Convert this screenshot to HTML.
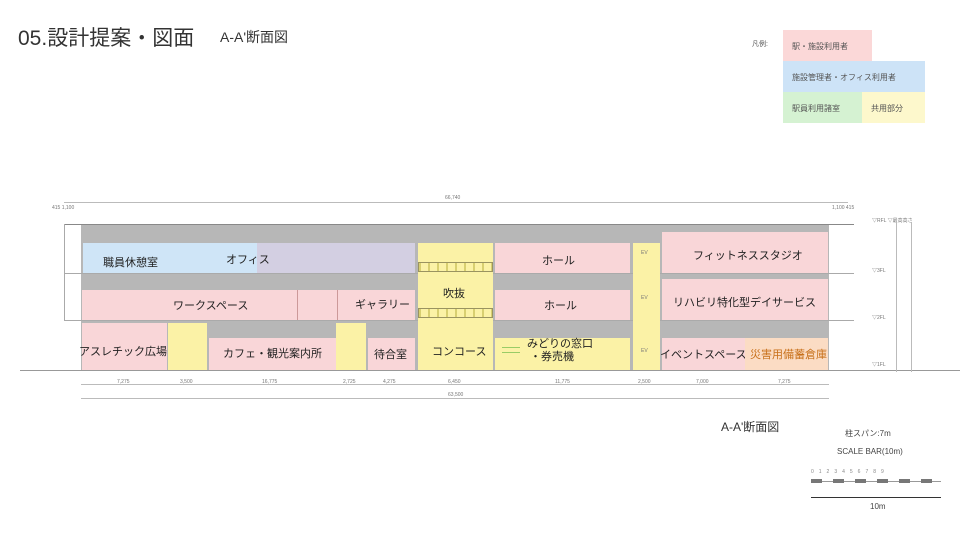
<!DOCTYPE html>
<html><head><meta charset="utf-8"><style>
body{margin:0;width:960px;height:540px;background:#fff;position:relative;overflow:hidden;font-family:"Liberation Sans","Noto Sans CJK JP",sans-serif;color:#333}
.a{position:absolute}
.r{position:absolute;box-sizing:border-box}
.pk{background:#f9d6d8}.bl{background:#cfe5f7}.pu{background:#d3cfe2}.ye{background:#fbf2a6}.gr{background:#b7b7b7}.or{background:#fbdcc4}
.t{position:absolute;font-size:11px;color:#222;white-space:nowrap}
.s{position:absolute;font-size:5px;color:#777;white-space:nowrap}
.ln{position:absolute;background:#888}
.rail{position:absolute;height:10px;border:1px solid #9a9360;background:repeating-linear-gradient(90deg,#d8cf70 0 2px,#fbf2a6 2px 9px);box-sizing:border-box}
</style></head><body>
<div class="a" style="left:18px;top:22px;font-size:21px;color:#333">05.設計提案・図面</div>
<div class="a" style="left:220px;top:27px;font-size:14px;color:#333">A-A'断面図</div>

<div class="a" style="left:752px;top:39px;font-size:7px;color:#555">凡例:</div>
<div class="r" style="left:783px;top:30px;width:89px;height:31px;background:#fbd8d8"><span class="a" style="left:9px;top:11px;font-size:8px;color:#555">駅・施設利用者</span></div>
<div class="r" style="left:783px;top:61px;width:142px;height:31px;background:#cde3f7"><span class="a" style="left:9px;top:11px;font-size:8px;color:#555">施設管理者・オフィス利用者</span></div>
<div class="r" style="left:783px;top:92px;width:79px;height:31px;background:#d5f2d2"><span class="a" style="left:9px;top:11px;font-size:8px;color:#555">駅員利用諸室</span></div>
<div class="r" style="left:862px;top:92px;width:63px;height:31px;background:#fdf8cc"><span class="a" style="left:9px;top:11px;font-size:8px;color:#555">共用部分</span></div>

<!-- top dimension -->
<div class="ln" style="left:64px;top:202px;width:784px;height:1px;background:#bbb"></div>
<div class="s" style="left:445px;top:195px">66,740</div>
<div class="s" style="left:52px;top:205px">415 1,100</div>
<div class="s" style="left:832px;top:205px">1,100 415</div>

<!-- building -->
<div class="r gr" style="left:81px;top:225px;width:748px;height:145px"></div>
<div class="ln" style="left:64px;top:224px;width:790px;height:1px"></div>
<div class="ln" style="left:64px;top:273px;width:790px;height:1px;background:#aaa"></div>
<div class="ln" style="left:64px;top:320px;width:790px;height:1px;background:#aaa"></div>
<div class="ln" style="left:64px;top:224px;width:1px;height:97px;background:#aaa"></div>

<!-- 3F -->
<div class="r bl" style="left:83px;top:243px;width:174px;height:30px"></div>
<div class="r pu" style="left:257px;top:243px;width:158px;height:30px"></div>
<div class="t" style="left:103px;top:254px">職員休憩室</div>
<div class="t" style="left:226px;top:251px">オフィス</div>
<div class="r ye" style="left:418px;top:243px;width:75px;height:127px"></div>
<div class="rail" style="left:418px;top:262px;width:75px"></div>
<div class="t" style="left:443px;top:285px">吹抜</div>
<div class="rail" style="left:418px;top:308px;width:75px"></div>
<div class="t" style="left:432px;top:343px">コンコース</div>
<div class="r pk" style="left:495px;top:243px;width:135px;height:30px"></div>
<div class="t" style="left:542px;top:252px">ホール</div>
<div class="r ye" style="left:633px;top:243px;width:27px;height:127px"></div>
<div class="s" style="left:641px;top:250px">EV</div>
<div class="s" style="left:641px;top:295px">EV</div>
<div class="s" style="left:641px;top:348px">EV</div>
<div class="r pk" style="left:662px;top:232px;width:166px;height:41px"></div>
<div class="t" style="left:693px;top:247px">フィットネススタジオ</div>

<!-- 2F -->
<div class="r pk" style="left:82px;top:290px;width:333px;height:30px"></div>
<div class="ln" style="left:297px;top:290px;width:1px;height:30px;background:#c99"></div>
<div class="ln" style="left:337px;top:290px;width:1px;height:30px;background:#c99"></div>
<div class="t" style="left:173px;top:297px">ワークスペース</div>
<div class="t" style="left:355px;top:296px">ギャラリー</div>
<div class="r pk" style="left:495px;top:290px;width:135px;height:30px"></div>
<div class="t" style="left:544px;top:297px">ホール</div>
<div class="r pk" style="left:662px;top:279px;width:166px;height:41px"></div>
<div class="t" style="left:673px;top:294px">リハビリ特化型デイサービス</div>

<!-- 1F -->
<div class="r pk" style="left:82px;top:323px;width:85px;height:47px"></div>
<div class="t" style="left:79px;top:343px">アスレチック広場</div>
<div class="r ye" style="left:168px;top:323px;width:39px;height:47px"></div>
<div class="r pk" style="left:209px;top:338px;width:127px;height:32px"></div>
<div class="t" style="left:223px;top:345px">カフェ・観光案内所</div>
<div class="r ye" style="left:336px;top:323px;width:30px;height:47px"></div>
<div class="r pk" style="left:368px;top:338px;width:47px;height:32px"></div>
<div class="t" style="left:374px;top:346px">待合室</div>
<div class="r ye" style="left:495px;top:338px;width:135px;height:32px"></div>
<div class="ln" style="left:502px;top:347px;width:18px;height:1px;background:#9c6"></div>
<div class="ln" style="left:502px;top:352px;width:18px;height:1px;background:#9c6"></div>
<div class="t" style="left:527px;top:338px;line-height:13px">みどりの窓口<br>&nbsp;・券売機</div>
<div class="r pk" style="left:662px;top:338px;width:83px;height:32px"></div>
<div class="t" style="left:660px;top:346px">イベントスペース</div>
<div class="r or" style="left:745px;top:338px;width:83px;height:32px"></div>
<div class="t" style="left:750px;top:346px;color:#c8701a">災害用備蓄倉庫</div>

<!-- ground -->
<div class="ln" style="left:20px;top:370px;width:940px;height:1px;background:#999"></div>

<!-- bottom dims -->
<div class="ln" style="left:81px;top:384px;width:748px;height:1px;background:#bbb"></div>
<div class="ln" style="left:81px;top:398px;width:748px;height:1px;background:#bbb"></div>
<div class="s" style="left:117px;top:379px">7,275</div>
<div class="s" style="left:180px;top:379px">3,500</div>
<div class="s" style="left:262px;top:379px">16,775</div>
<div class="s" style="left:343px;top:379px">2,725</div>
<div class="s" style="left:383px;top:379px">4,275</div>
<div class="s" style="left:448px;top:379px">6,450</div>
<div class="s" style="left:555px;top:379px">11,775</div>
<div class="s" style="left:638px;top:379px">2,500</div>
<div class="s" style="left:696px;top:379px">7,000</div>
<div class="s" style="left:778px;top:379px">7,275</div>
<div class="s" style="left:448px;top:392px">63,500</div>

<!-- right levels -->
<div class="s" style="left:872px;top:217px">▽RFL ▽最高高さ</div>
<div class="s" style="left:872px;top:267px">▽3FL</div>
<div class="s" style="left:872px;top:314px">▽2FL</div>
<div class="s" style="left:872px;top:361px">▽1FL</div>
<div class="ln" style="left:896px;top:222px;width:1px;height:150px;background:#bbb"></div>
<div class="ln" style="left:911px;top:222px;width:1px;height:150px;background:#bbb"></div>

<!-- caption & scale -->
<div class="a" style="left:721px;top:418px;font-size:12px;color:#333">A-A'断面図</div>
<div class="a" style="left:845px;top:428px;font-size:8px;color:#444">柱スパン:7m</div>
<div class="a" style="left:837px;top:447px;font-size:8px;color:#444">SCALE BAR(10m)</div>
<div class="a" style="left:811px;top:469px;font-size:5px;color:#888;letter-spacing:5px">0123456789</div>
<div class="ln" style="left:811px;top:481px;width:130px;height:1px;background:#999"></div>
<div class="a" style="left:811px;top:479px;width:130px;height:4px;background:repeating-linear-gradient(90deg,#777 0 11px,transparent 11px 22px)"></div>
<div class="ln" style="left:811px;top:497px;width:130px;height:1px;background:#333"></div>
<div class="a" style="left:870px;top:502px;font-size:8px;color:#444">10m</div>
</body></html>
